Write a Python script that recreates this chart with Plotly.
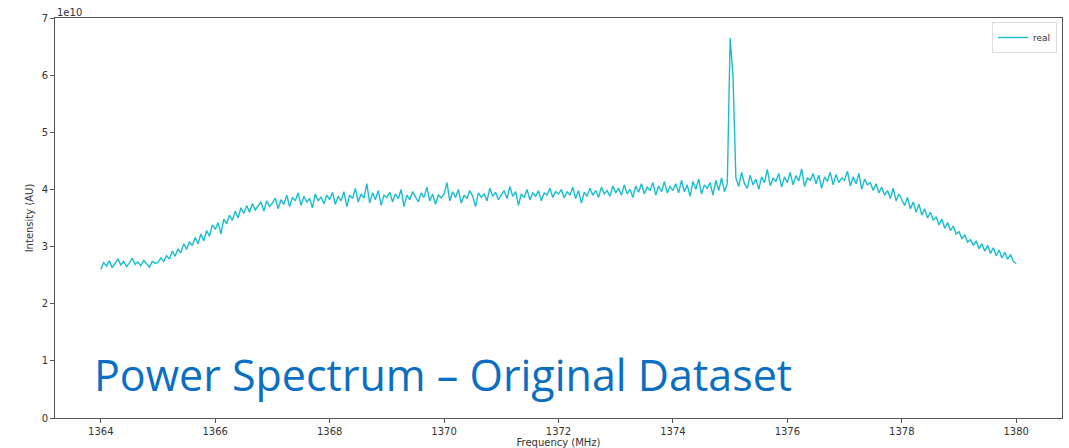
import numpy as np
import plotly.graph_objects as go

# Frequency axis: 1364 .. 1380 MHz, step 0.05 MHz
F_START = 1364.0
F_STEP = 0.05

# Intensity in units of 1e10 (AU), one row per MHz
intensity_rows = [
    [2.60, 2.72, 2.66, 2.75, 2.63, 2.70, 2.78, 2.68, 2.74, 2.65, 2.71, 2.80, 2.69, 2.73, 2.66, 2.76, 2.70, 2.64, 2.74, 2.71],
    [2.72, 2.80, 2.74, 2.84, 2.78, 2.92, 2.83, 2.96, 2.89, 3.05, 2.95, 3.08, 3.02, 3.16, 3.05, 3.22, 3.10, 3.28, 3.18, 3.38],
    [3.30, 3.42, 3.22, 3.48, 3.40, 3.55, 3.46, 3.62, 3.50, 3.68, 3.58, 3.72, 3.60, 3.75, 3.64, 3.70, 3.78, 3.62, 3.80, 3.70],
    [3.76, 3.85, 3.66, 3.82, 3.74, 3.90, 3.70, 3.86, 3.80, 3.94, 3.72, 3.88, 3.78, 3.84, 3.68, 3.92, 3.80, 3.87, 3.75, 3.90],
    [3.82, 3.95, 3.74, 3.88, 3.80, 3.96, 3.70, 3.90, 3.84, 4.02, 3.78, 3.92, 3.85, 4.10, 3.76, 3.94, 3.82, 3.98, 3.72, 3.90],
    [3.86, 3.95, 3.78, 3.92, 3.84, 4.00, 3.70, 3.90, 3.82, 3.96, 3.88, 3.78, 3.94, 3.86, 4.04, 3.80, 3.92, 3.74, 3.90, 3.85],
    [3.92, 4.12, 3.80, 3.96, 3.86, 4.00, 3.76, 3.90, 3.84, 3.98, 3.88, 3.70, 3.94, 3.86, 3.92, 3.80, 4.02, 3.88, 3.95, 3.82],
    [3.90, 3.98, 3.84, 4.05, 3.88, 3.96, 3.72, 3.92, 3.86, 4.00, 3.82, 3.94, 3.88, 3.98, 3.80, 3.94, 3.90, 4.02, 3.86, 3.96],
    [3.92, 4.00, 3.85, 3.96, 3.90, 4.04, 3.84, 3.98, 3.76, 3.95, 3.88, 4.02, 3.90, 3.98, 3.86, 4.04, 3.92, 3.98, 3.88, 4.06],
    [3.94, 4.02, 3.90, 4.08, 3.92, 4.00, 3.86, 4.06, 3.95, 4.10, 3.92, 4.04, 3.98, 4.12, 3.90, 4.06, 3.96, 4.14, 3.94, 4.05],
    [3.98, 4.10, 3.94, 4.16, 3.96, 4.08, 3.88, 4.14, 4.00, 4.18, 3.92, 4.08, 4.02, 4.12, 3.90, 4.16, 3.98, 4.20, 3.96, 4.10],
    [6.65, 5.97, 4.20, 4.05, 4.30, 4.10, 4.02, 4.25, 4.08, 4.18, 4.00, 4.22, 4.12, 4.35, 4.06, 4.20, 4.14, 4.28, 4.04, 4.22],
    [4.12, 4.30, 4.08, 4.24, 4.15, 4.36, 4.05, 4.20, 4.16, 4.28, 4.10, 4.25, 4.02, 4.22, 4.14, 4.30, 4.08, 4.26, 4.12, 4.20],
    [4.16, 4.32, 4.06, 4.22, 4.10, 4.28, 4.00, 4.18, 4.08, 4.12, 3.98, 4.10, 3.94, 4.04, 3.90, 3.98, 3.84, 4.02, 3.80, 3.92],
    [3.82, 3.72, 3.86, 3.66, 3.78, 3.60, 3.74, 3.55, 3.66, 3.50, 3.60, 3.46, 3.52, 3.38, 3.48, 3.32, 3.42, 3.28, 3.36, 3.22],
    [3.26, 3.14, 3.20, 3.08, 3.12, 3.02, 3.10, 2.96, 3.05, 2.92, 3.02, 2.88, 2.98, 2.84, 2.94, 2.80, 2.90, 2.78, 2.86, 2.74],
    [2.70],
]
intensity = [v for row in intensity_rows for v in row]
frequency = F_START + F_STEP * np.arange(len(intensity))

x_ticks = [1364, 1366, 1368, 1370, 1372, 1374, 1376, 1378, 1380]
y_ticks = [0, 1, 2, 3, 4, 5, 6, 7]

AXIS_FONT = dict(family="DejaVu Sans", size=10, color="#333333")

fig = go.Figure()
fig.add_trace(go.Scatter(
    x=frequency, y=intensity, mode="lines", name="real",
    line=dict(color="#17becf", width=1.4),
))

fig.update_layout(
    width=1069, height=448,
    margin=dict(l=55, r=7, t=18, b=30, autoexpand=False),
    paper_bgcolor="white", plot_bgcolor="white",
    showlegend=True,
    legend=dict(
        x=0.995, y=0.99, xanchor="right", yanchor="top",
        bgcolor="rgba(255,255,255,0.8)", bordercolor="#dddddd", borderwidth=1,
        font=dict(family="DejaVu Sans", size=9, color="#333333"),
        itemwidth=30,
    ),
    font=AXIS_FONT,
)
fig.update_xaxes(
    range=[1363.2, 1380.8], tickvals=x_ticks, ticktext=[str(t) for t in x_ticks],
    showgrid=False, zeroline=False, showline=True, mirror=True, automargin=False,
    linecolor="#555555", linewidth=1, ticks="outside", ticklen=4, tickcolor="#555555",
    title=dict(text="Frequency (MHz)", font=AXIS_FONT, standoff=0),
    tickfont=AXIS_FONT,
)
fig.update_yaxes(
    range=[0, 7], tickvals=y_ticks, ticktext=[str(t) for t in y_ticks],
    showgrid=False, zeroline=False, showline=True, mirror=True, automargin=False,
    linecolor="#555555", linewidth=1, ticks="outside", ticklen=4, tickcolor="#555555",
    title=dict(text="Intensity (AU)", font=AXIS_FONT, standoff=6),
    tickfont=AXIS_FONT,
)

fig.add_annotation(
    text="1e10", xref="paper", yref="paper", x=0.0, y=1.0,
    xanchor="left", yanchor="bottom", showarrow=False, yshift=-2,
    font=dict(family="DejaVu Sans", size=10, color="#333333"),
)
fig.add_annotation(
    text="Power Spectrum – Original Dataset", xref="paper", yref="paper",
    x=0.037, y=0.11, xanchor="left", yanchor="middle", showarrow=False,
    font=dict(family="Open Sans", size=43, color="#0a6fc2"),
)

fig.write_html(
    "out.html",
    config={"displayModeBar": False},
    post_script="document.body.style.margin='0px';",
)
